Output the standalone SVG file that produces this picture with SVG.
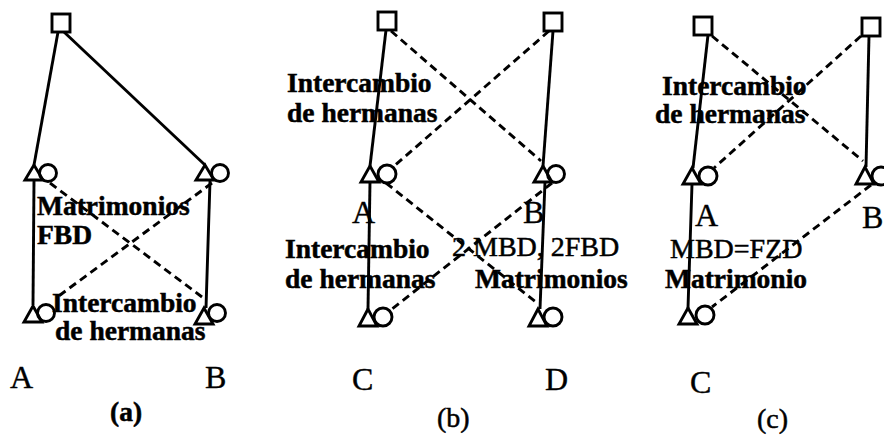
<svg xmlns="http://www.w3.org/2000/svg" width="884" height="436" viewBox="0 0 884 436">
<style>
.sh{fill:none;stroke:#000;stroke-width:2.9;stroke-linejoin:miter}
.sol{fill:none;stroke:#000;stroke-width:2.9}
.dsh{fill:none;stroke:#000;stroke-width:2.9;stroke-dasharray:8 5}
.lb{font-family:"Liberation Serif",serif;font-weight:bold;font-size:27.5px;fill:#000;stroke:#000;stroke-width:0.5}
.rg{font-family:"Liberation Serif",serif;font-size:28px;fill:#000;stroke:#000;stroke-width:0.5}
.ltr{font-family:"Liberation Serif",serif;font-size:32px;fill:#000;stroke:#000;stroke-width:0.4}
</style>
<rect width="884" height="436" fill="#fff"/>
<g id="connectors">
<line class="sol" x1="58" y1="32" x2="34" y2="165"/>
<line class="sol" x1="64" y1="32" x2="205" y2="165"/>
<line class="sol" x1="34" y1="181" x2="33" y2="305"/>
<line class="sol" x1="210" y1="181" x2="206" y2="308"/>
<line class="dsh" x1="50" y1="183" x2="202" y2="297"/>
<line class="dsh" x1="212" y1="183" x2="56" y2="298"/>
<line class="sol" x1="386" y1="30" x2="370" y2="166"/>
<line class="sol" x1="553" y1="31" x2="543" y2="166"/>
<line class="sol" x1="370" y1="182" x2="368" y2="309"/>
<line class="sol" x1="545" y1="182" x2="540" y2="309"/>
<line class="dsh" x1="391" y1="31" x2="541" y2="161"/>
<line class="dsh" x1="549" y1="31" x2="393" y2="167"/>
<line class="dsh" x1="386" y1="183" x2="537" y2="303"/>
<line class="dsh" x1="552" y1="183" x2="392" y2="309"/>
<line class="sol" x1="708" y1="35" x2="693" y2="168"/>
<line class="sol" x1="869" y1="36" x2="866" y2="167"/>
<line class="sol" x1="692" y1="184" x2="688" y2="308"/>
<line class="dsh" x1="712" y1="36" x2="863" y2="161"/>
<line class="dsh" x1="861" y1="36" x2="714" y2="168"/>
<line class="dsh" x1="871" y1="185" x2="712" y2="307"/>
</g>
<g id="a-top"><rect class="sh" x="52" y="14" width="18" height="18"/></g>
<g id="a-A1"><polygon class="sh" points="34,165 25,180 43,180"/><circle class="sh" cx="48" cy="173" r="8.5"/></g>
<g id="a-B1"><polygon class="sh" points="205,165 196,180 214,180"/><circle class="sh" cx="220" cy="173" r="8.5"/></g>
<g id="a-A2"><polygon class="sh" points="33,306 24,322 42,322"/><circle class="sh" cx="46" cy="313" r="8.5"/></g>
<g id="a-B2"><polygon class="sh" points="204,308 195,324 213,324"/><circle class="sh" cx="217" cy="313" r="8.5"/></g>
<g id="b-topA"><rect class="sh" x="378" y="12" width="18" height="18"/></g>
<g id="b-topB"><rect class="sh" x="544" y="13" width="18" height="18"/></g>
<g id="b-A"><polygon class="sh" points="370,166 361,182 379,182"/><circle class="sh" cx="387" cy="174" r="9"/></g>
<g id="b-B"><polygon class="sh" points="543,166 534,182 552,182"/><circle class="sh" cx="556" cy="174" r="8.5"/></g>
<g id="b-C"><polygon class="sh" points="368,309 359,326 377,326"/><circle class="sh" cx="383" cy="317" r="9"/></g>
<g id="b-D"><polygon class="sh" points="538,309 529,326 547,326"/><circle class="sh" cx="553" cy="317" r="9"/></g>
<g id="c-topA"><rect class="sh" x="694" y="17" width="18" height="18"/></g>
<g id="c-topB"><rect class="sh" x="862" y="18" width="18" height="18"/></g>
<g id="c-A"><polygon class="sh" points="692,168 683,184 701,184"/><circle class="sh" cx="708" cy="176" r="9"/></g>
<g id="c-B"><polygon class="sh" points="865,167 856,184 874,184"/><circle class="sh" cx="881" cy="176" r="9"/></g>
<g id="c-C"><polygon class="sh" points="688,308 679,324 697,324"/><circle class="sh" cx="705" cy="315" r="9"/></g>
<g id="labels">
<text class="lb" x="37" y="215">Matrimonios</text>
<text class="lb" x="37" y="244">FBD</text>
<text class="lb" x="52" y="312">Intercambio</text>
<text class="lb" x="55" y="340">de hermanas</text>
<text class="ltr" x="10" y="388">A</text>
<text class="ltr" x="205" y="388">B</text>
<text class="lb" x="110" y="421">(a)</text>
<text class="lb" x="287" y="92">Intercambio</text>
<text class="lb" x="287" y="122">de hermanas</text>
<text class="ltr" x="352" y="223">A</text>
<text class="ltr" x="523" y="223">B</text>
<text class="lb" x="285" y="258">Intercambio</text>
<text class="lb" x="285" y="288">de hermanas</text>
<text class="rg" x="452" y="256">2 MBD, 2FBD</text>
<text class="lb" x="475" y="288">Matrimonios</text>
<text class="ltr" x="352" y="390">C</text>
<text class="ltr" x="545" y="390">D</text>
<text class="rg" x="437" y="427">(b)</text>
<text class="lb" x="662" y="95">Intercambio</text>
<text class="lb" x="655" y="123">de hermanas</text>
<text class="ltr" x="695" y="226">A</text>
<text class="ltr" x="862" y="228">B</text>
<text class="rg" x="670" y="258">MBD=FZD</text>
<text class="lb" x="665" y="288">Matrimonio</text>
<text class="ltr" x="690" y="393">C</text>
<text class="rg" x="757" y="428">(c)</text>
</g>
</svg>
